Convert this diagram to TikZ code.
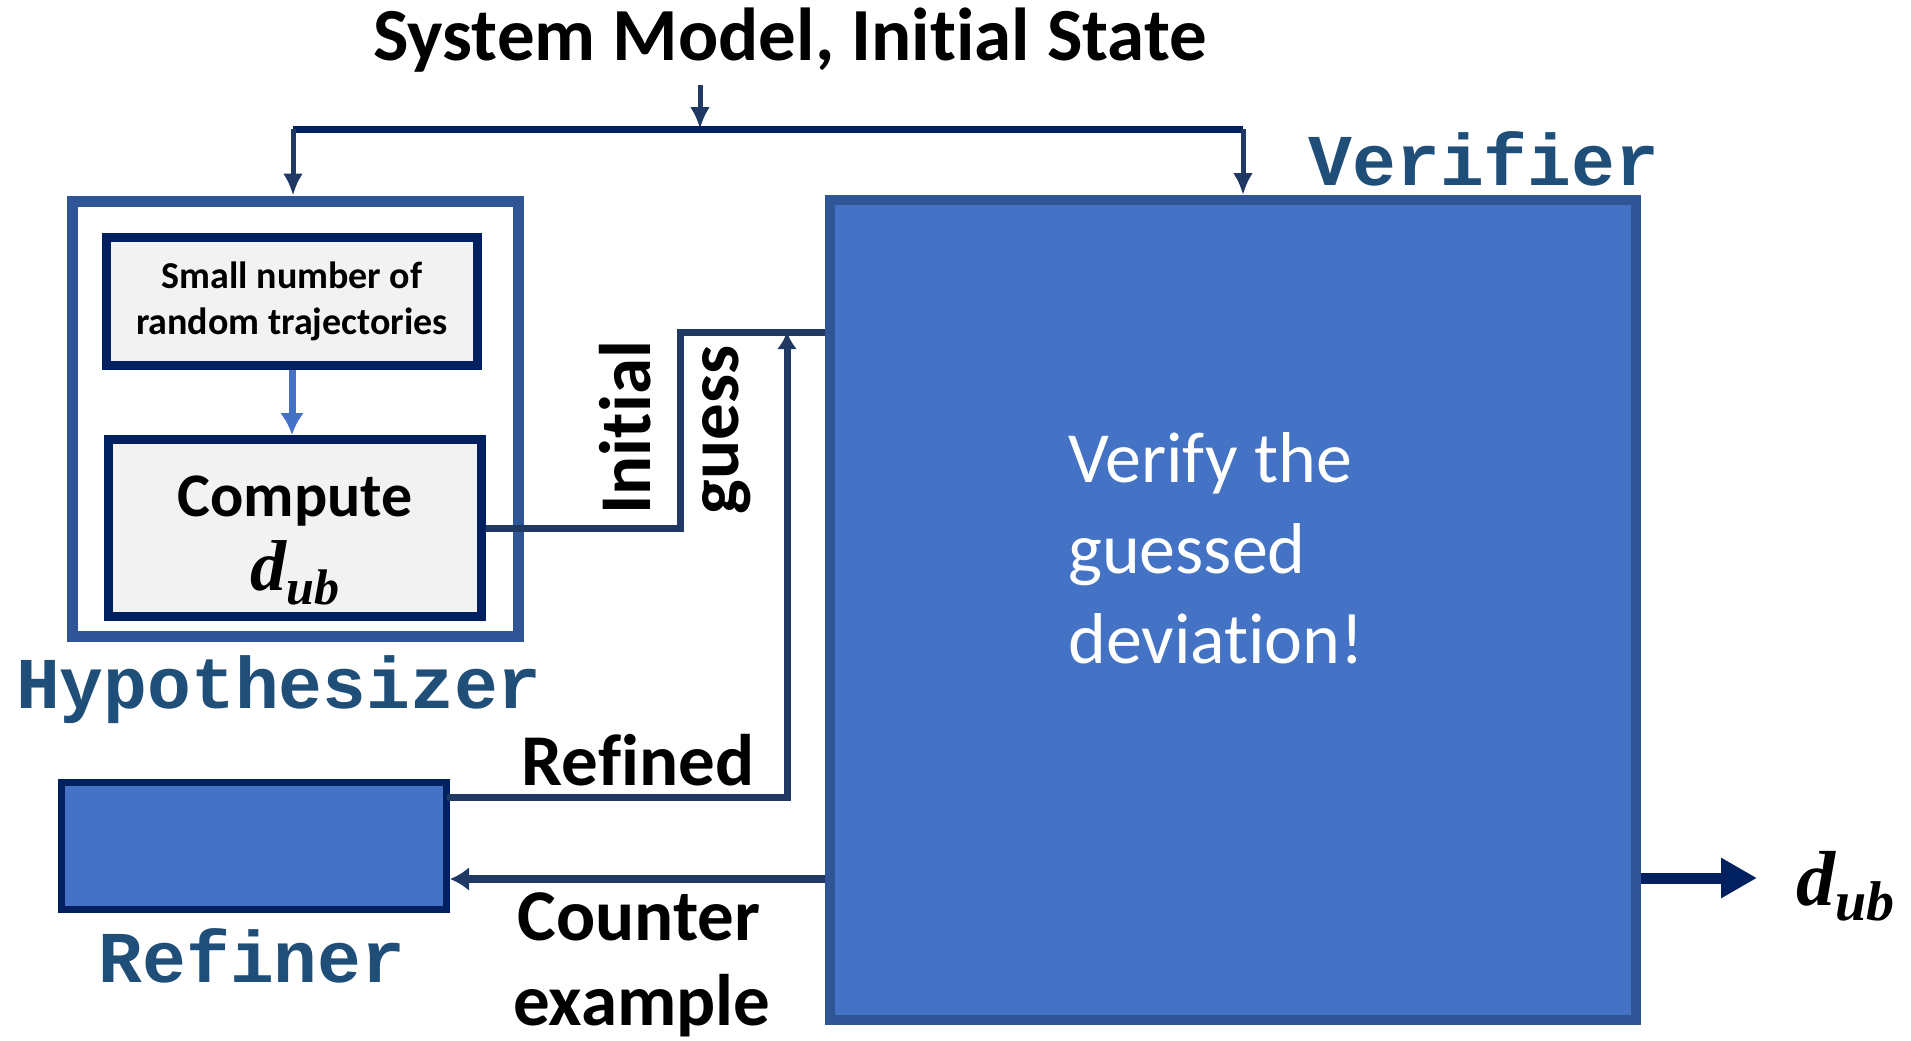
\documentclass[tikz,border=0pt]{standalone}
\usepackage{fontspec}
\setmainfont{Carlito}[Ligatures=NoCommon]
\setmonofont{Liberation Mono}
\newfontfamily\mathlike{Liberation Serif}
\usetikzlibrary{arrows.meta}
\definecolor{navy}{HTML}{002060}
\definecolor{lnk}{HTML}{203864}
\definecolor{bdr}{HTML}{2F5597}
\definecolor{fillb}{HTML}{4472C4}
\definecolor{grayf}{HTML}{F2F2F2}
\definecolor{lbl}{HTML}{1F4E79}
\newcommand{\dubsym}[2]{{\mathlike\bfseries\itshape\fontsize{#1}{#1}\selectfont d\raisebox{-0.2em}{\fontsize{#2}{#2}\selectfont ub}}}
\begin{document}
\begin{tikzpicture}[x=1pt,y=-1pt,
  bigtext/.style={font=\fontsize{73}{88}\selectfont\bfseries, inner sep=0, anchor=base},
  monolbl/.style={font=\fontsize{73}{80}\selectfont\ttfamily\bfseries, text=lbl, inner sep=0, anchor=base},
  innerbox/.style={draw=navy, line width=9, fill=grayf, inner sep=0, align=center},
  feed/.style={draw=lnk, line width=5, -{Latex[length=22,width=20]}},
  link/.style={draw=lnk, line width=7},
  vtext/.style={font=\fontsize{72}{90}\selectfont, text=white, inner sep=0, anchor=base west},
]
\useasboundingbox (0,0) rectangle (1911,1041);

% title
\node[bigtext, font=\fontsize{75}{88}\selectfont\bfseries] (title) at (790,60) {System Model, Initial State};

% blocks
\node[draw=bdr, line width=11, minimum width=446, minimum height=435, inner sep=0] (hyp) at (295,418.5) {};
\node[innerbox, minimum width=371, minimum height=128, font=\fontsize{38}{46}\selectfont\bfseries] (small) at (292,301) {Small number of\\random trajectories};
\node[innerbox, minimum width=373, minimum height=177, font=\fontsize{62}{78}\selectfont\bfseries] (compute) at (295,528) {\rule{0pt}{66pt}Compute\\[-4pt]\dubsym{72}{50}};
\node[draw=bdr, line width=10, fill=fillb, minimum width=806, minimum height=820, inner sep=0] (ver) at (1233,610) {};
\node[draw=navy, line width=7, fill=fillb, minimum width=385, minimum height=127, inner sep=0] (ref) at (254,846) {};

% block labels
\node[monolbl] (hyplbl) at (279,708) {Hypothesizer};
\node[monolbl] (reflbl) at (252,982) {Refiner};
\node[monolbl] (verlbl) at (1484,185) {Verifier};

% verifier text
\node[vtext] (vt1) at (1068,482) {Verify the};
\node[vtext] (vt2) at (1068,573) {guessed};
\node[vtext] (vt3) at (1068,663) {deviation!};

% top distribution
\coordinate (src) at (700,85);
\coordinate (busL) at (293,129);
\coordinate (busR) at (1243,129);
\draw[feed] (src) -- (src |- busL);
\draw[draw=navy, line width=7] (busL) -- (busR);
\draw[feed] (busL) -- (busL |- hyp.north);
\draw[feed] (busR) -- (busR |- ver.north);

% internal arrow
\draw[draw=fillb, line width=7, -{Latex[length=22,width=24]}] (small.south) -- (small.south |- compute.north);

% initial guess
\coordinate (ig) at (680,332);
\draw[link] (compute.east) -| (ig) -- (ig -| ver.west);
\node[bigtext, rotate=90] (lblinit) at (650,428) {Initial};
\node[bigtext, rotate=90] (lblguess) at (738,430) {guess};

% refined
\coordinate (rf) at (787,797);
\coordinate (rtip) at (787,332);
\draw[link, line cap=rect] (ref.east |- rf) -- (rf);
\draw[draw=lnk, line width=7, -{Latex[length=17,width=20]}] (rf) -- (rtip);
\node[bigtext] (lblref) at (638,785) {Refined};

% counter example
\coordinate (ce) at (800,879);
\draw[draw=lnk, line width=8, -{Latex[length=19,width=24]}] (ver.west |- ce) -- (ref.east |- ce);
\node[bigtext] (lblcnt) at (639,940) {Counter};
\node[bigtext] (lblex) at (642,1025) {example};

% output
\coordinate (outtip) at (1757,878);
\draw[draw=navy, line width=11, -{Triangle[length=36,width=38]}] (ver.east |- outtip) -- (outtip);
\node[inner sep=0, anchor=base west] (dout) at (1796,905) {\dubsym{78}{56}};
\end{tikzpicture}
\end{document}
